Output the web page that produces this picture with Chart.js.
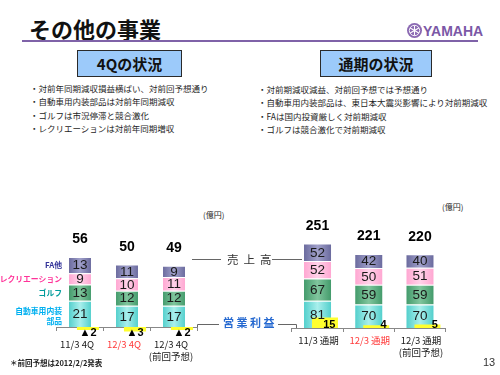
<!DOCTYPE html>
<html lang="ja">
<head>
<meta charset="utf-8">
<title>その他の事業</title>
<script src="https://cdn.jsdelivr.net/npm/chart.js@4.4.1/dist/chart.umd.min.js"></script>
<style>
  html, body { margin:0; padding:0; background:#fff; }
  #slide { position:relative; width:500px; height:375px; overflow:hidden; font-family:"Noto Sans CJK JP","Noto Sans",sans-serif; color:#222; }
  .abs { position:absolute; white-space:nowrap; }
  #title { left:29px; top:13px; font-size:22px; line-height:30px; font-weight:700; color:#111; }
  #rule { left:22px; top:40px; width:456px; height:2px; background:#7f62a8; }
  #logoText { left:423px; top:22px; font-family:"Liberation Sans Narrow","Liberation Sans",sans-serif; font-weight:700; font-size:14px; line-height:18px; color:#7b58a6; }
  #emblem { left:407px; top:23px; }
  .box { top:50px; height:27px; background:#9ccafa; border:1px solid #2a2a2a; box-sizing:border-box; text-align:center; font-weight:700; font-size:15px; line-height:25px; color:#111; }
  #box1 { left:77px; width:105px; }
  #box2 { left:320px; width:112px; }
  .bul { font-size:8.5px; line-height:13.4px; color:#1e1e1e; }
  #bul1 { left:30px; top:82px; }
  #bul2 { left:258px; top:83px; }
  .unit { font-size:8px; line-height:10px; color:#222; }
  #unit1 { left:203px; top:210px; }
  #unit2 { left:442px; top:202px; }
  #chartL { left:0; top:200px; }
  #chartR { left:230px; top:200px; }
  #salesLbl { left:227px; top:250px; font-size:11.5px; line-height:18px; letter-spacing:5px; color:#333; }
  #opLbl { left:223px; top:313px; font-size:11px; line-height:18px; letter-spacing:2.5px; color:#2468d0; font-weight:700; }
  #note { left:10px; top:357px; font-size:7.5px; line-height:11px; color:#222; font-weight:700; }
  #page { left:483px; top:355px; font-size:11px; line-height:14px; color:#333; font-family:"Liberation Sans",sans-serif; }
  #conn { left:0; top:0; pointer-events:none; }
</style>
</head>
<body>
<div id="slide">
  <div class="abs" id="title">その他の事業</div>
  <div class="abs" id="rule"></div>
  <svg class="abs" id="emblem" width="15" height="15" viewBox="0 0 15 15">
    <circle cx="7.5" cy="7.5" r="7.5" fill="#8a68b2"/>
    <circle cx="7.5" cy="7.5" r="5.2" fill="none" stroke="#fff" stroke-width="0.9"/>
    <g stroke="#fff" stroke-width="1.1">
      <line x1="7.5" y1="2.5" x2="7.5" y2="12.5"/>
      <line x1="3.2" y1="5" x2="11.8" y2="10"/>
      <line x1="3.2" y1="10" x2="11.8" y2="5"/>
    </g>
  </svg>
  <div class="abs" id="logoText">YAMAHA</div>

  <div class="abs box" id="box1">4Qの状況</div>
  <div class="abs box" id="box2">通期の状況</div>

  <div class="abs bul" id="bul1">・対前年同期減収損益横ばい、対前回予想通り<br>・自動車用内装部品は対前年同期減収<br>・ゴルフは市況停滞と競合激化<br>・レクリエーションは対前年同期増収</div>
  <div class="abs bul" id="bul2">・対前期減収減益、対前回予想では予想通り<br>・自動車用内装部品は、東日本大震災影響により対前期減収<br>・FAは国内投資厳しく対前期減収<br>・ゴルフは競合激化で対前期減収</div>

  <div class="abs unit" id="unit1">(億円)</div>
  <div class="abs unit" id="unit2">(億円)</div>

  <canvas class="abs" id="chartL" width="230" height="175"></canvas>
  <canvas class="abs" id="chartR" width="270" height="175"></canvas>

  <svg class="abs" id="conn" width="500" height="375">
    <g stroke="#666" stroke-width="1" fill="none">
      <line x1="192" y1="259.5" x2="221" y2="259.5"/>
      <line x1="272" y1="259.5" x2="302" y2="259.5"/>
      <polyline points="197.5,327 197.5,324.5 219,324.5"/>
      <polyline points="278,324.5 296.5,324.5 296.5,328"/>
    </g>
  </svg>
  <div class="abs" id="salesLbl">売上高</div>
  <div class="abs" id="opLbl">営業利益</div>

  <div class="abs" id="note">＊前回予想は2012/2/2発表</div>
  <div class="abs" id="page">13</div>
</div>

<script>
// ---------------- data ----------------
const leftCategories = [['11/3 4Q'], ['12/3 4Q'], ['12/3 4Q', '(前回予想)']];
const leftAuto = [21, 17, 17];
const leftGolf = [13, 12, 12];
const leftRecreation = [9, 10, 11];
const leftFA = [13, 11, 9];
const leftSalesTotals = [56, 50, 49];
const leftOperatingProfit = [-2, -3, -2];

const rightCategories = [['11/3 通期'], ['12/3 通期'], ['12/3 通期', '(前回予想)']];
const rightAuto = [81, 70, 70];
const rightGolf = [67, 59, 59];
const rightRecreation = [52, 50, 51];
const rightFA = [52, 42, 40];
const rightSalesTotals = [251, 221, 220];
const rightOperatingProfit = [15, 4, 5];

const segmentNames = ['自動車用内装部品', 'ゴルフ', 'レクリエーション', 'FA他'];
const segmentSideLabels = [['自動車用内装', '部品'], ['ゴルフ'], ['レクリエーション'], ['FA他']];
const highlightedCategory = 1;

// ---------------- styles ----------------
const LATIN = '"Liberation Sans","DejaVu Sans",Arial,sans-serif';
const JP = '"Noto Sans CJK JP","Noto Sans",sans-serif';
const segEdge = ['#4dcdca', '#3f9868', '#ffa4d0', '#67679b'];
const segMid  = ['#a9efec', '#80c59d', '#ffd2e9', '#a0a0ca'];
const sideLabelColors = ['#00b0f0', '#009c9c', '#ff3399', '#333399'];

Chart.defaults.font.family = LATIN;

function segFill(k) {
  return (c) => {
    const chart = c.chart;
    const meta = chart.getDatasetMeta(c.datasetIndex);
    const el = meta && meta.data ? meta.data[c.dataIndex] : null;
    if (!el || !isFinite(el.x) || !isFinite(el.width) || el.width <= 0) return segEdge[k];
    const g = chart.ctx.createLinearGradient(el.x - el.width / 2, 0, el.x + el.width / 2, 0);
    g.addColorStop(0, segEdge[k]);
    g.addColorStop(0.5, segMid[k]);
    g.addColorStop(1, segEdge[k]);
    return g;
  };
}

const valueLabelPlugin = {
  id: 'valueLabels',
  afterDatasetsDraw(chart, args, opts) {
    const ctx = chart.ctx;
    ctx.save();
    ctx.textBaseline = 'middle';
    let topMeta = null;
    chart.data.datasets.forEach((ds, di) => {
      const meta = chart.getDatasetMeta(di);
      if (ds.isProfit) {
        ctx.font = 'bold 11px ' + LATIN;
        ctx.fillStyle = '#000';
        ctx.textAlign = 'right';
        meta.data.forEach((el, i) => {
          const v = ds.data[i].y;
          const txt = v < 0 ? '▲' + Math.abs(v) : String(v);
          const y = v < 0 ? el.base + 5.5 : el.base - 3.5;
          ctx.fillText(txt, el.x + el.width / 2 - 2.5, y);
        });
        return;
      }
      topMeta = meta;
      ctx.font = '13.5px ' + LATIN;
      ctx.fillStyle = '#1a1a1a';
      ctx.textAlign = 'center';
      meta.data.forEach((el, i) => {
        ctx.fillText(String(ds.data[i]), el.x, (el.y + el.base) / 2 + 0.5);
      });
      if (opts.sideLabels) {
        const el = meta.data[0];
        const lines = segmentSideLabels[ds.segIndex];
        ctx.font = 'bold 7.8px ' + JP;
        ctx.fillStyle = sideLabelColors[ds.segIndex];
        ctx.textAlign = 'right';
        const cy = (el.y + el.base) / 2;
        const lh = 9.5;
        lines.forEach((ln, j) => {
          ctx.fillText(ln, el.x - el.width / 2 - 6, cy - (lines.length - 1) * lh / 2 + j * lh + (lines.length > 1 ? 2 : 0));
        });
      }
    });
    if (topMeta) {
      ctx.font = 'bold 14px ' + LATIN;
      ctx.fillStyle = '#000';
      ctx.textAlign = 'center';
      topMeta.data.forEach((el, i) => {
        ctx.fillText(String(opts.totals[i]), el.x, el.y - 17.5);
      });
    }
    ctx.restore();
  }
};

function buildChart(canvasId, cfg) {
  const n = cfg.categories.length;
  const datasets = [{
    label: '営業利益',
    isProfit: true,
    data: cfg.profit.map((v, i) => ({ x: i, y: v })),
    xAxisID: 'x2', yAxisID: 'y2',
    backgroundColor: '#ffff2e',
    borderWidth: 0,
    grouped: false,
    categoryPercentage: 1,
    barPercentage: cfg.profitBarPct,
    order: 0
  }];
  cfg.segments.forEach((arr, k) => {
    datasets.push({
      label: segmentNames[k],
      segIndex: k,
      data: arr,
      xAxisID: 'x', yAxisID: 'y',
      stack: 'sales',
      grouped: false,
      backgroundColor: segFill(k),
      borderColor: 'rgba(255,255,255,0.8)',
      borderWidth: 1,
      categoryPercentage: 1,
      barPercentage: cfg.salesBarPct,
      order: 1
    });
  });
  const chart = new Chart(document.getElementById(canvasId), {
    type: 'bar',
    data: { labels: cfg.categories, datasets },
    options: {
      responsive: false,
      animation: false,
      events: [],
      layout: { padding: cfg.padding },
      scales: {
        x: {
          type: 'category',
          position: { y: 0 },
          offset: true,
          grid: { display: true, drawOnChartArea: false, drawTicks: true, tickLength: 3, color: '#888', offset: true },
          border: { display: true, color: '#888', width: 1 },
          ticks: {
            autoSkip: false, maxRotation: 0, minRotation: 0,
            padding: cfg.tickPad,
            labelOffset: cfg.labelOffset,
            color: (c) => c.index === highlightedCategory ? '#ff3b3b' : '#1a1a1a',
            font: { family: JP, size: 9.5, lineHeight: 1.3 }
          }
        },
        x2: {
          type: 'linear', display: false, offset: false,
          grid: { offset: false },
          min: -0.5 - cfg.profitShift, max: n - 0.5 - cfg.profitShift
        },
        y: { display: false, stacked: true, min: cfg.yRange[0], max: cfg.yRange[1] },
        y2: { display: false, min: cfg.y2Range[0], max: cfg.y2Range[1] }
      },
      plugins: {
        legend: { display: false },
        tooltip: { enabled: false },
        valueLabels: { totals: cfg.totals, sideLabels: cfg.sideLabels }
      }
    },
    plugins: [valueLabelPlugin]
  });
  chart.update();
  return chart;
}

buildChart('chartL', {
  categories: leftCategories,
  segments: [leftAuto, leftGolf, leftRecreation, leftFA],
  totals: leftSalesTotals,
  profit: leftOperatingProfit,
  sideLabels: true,
  padding: { left: 56.5, right: 32.5, top: 27, bottom: 38 },
  yRange: [-8, 80],
  y2Range: [-6.67, 66.7],
  salesBarPct: 0.51,
  profitBarPct: 0.47,
  profitShift: 0.17,
  tickPad: 8,
  labelOffset: -3
});

buildChart('chartR', {
  categories: rightCategories,
  segments: [rightAuto, rightGolf, rightRecreation, rightFA],
  totals: rightSalesTotals,
  profit: rightOperatingProfit,
  sideLabels: false,
  padding: { left: 61.9, right: 54.4, top: 20, bottom: 37 },
  yRange: [-29.85, 322.4],
  y2Range: [-14.3, 154.3],
  salesBarPct: 0.566,
  profitBarPct: 0.507,
  profitShift: 0.146,
  tickPad: 3,
  labelOffset: 1
});
</script>
</body>
</html>
